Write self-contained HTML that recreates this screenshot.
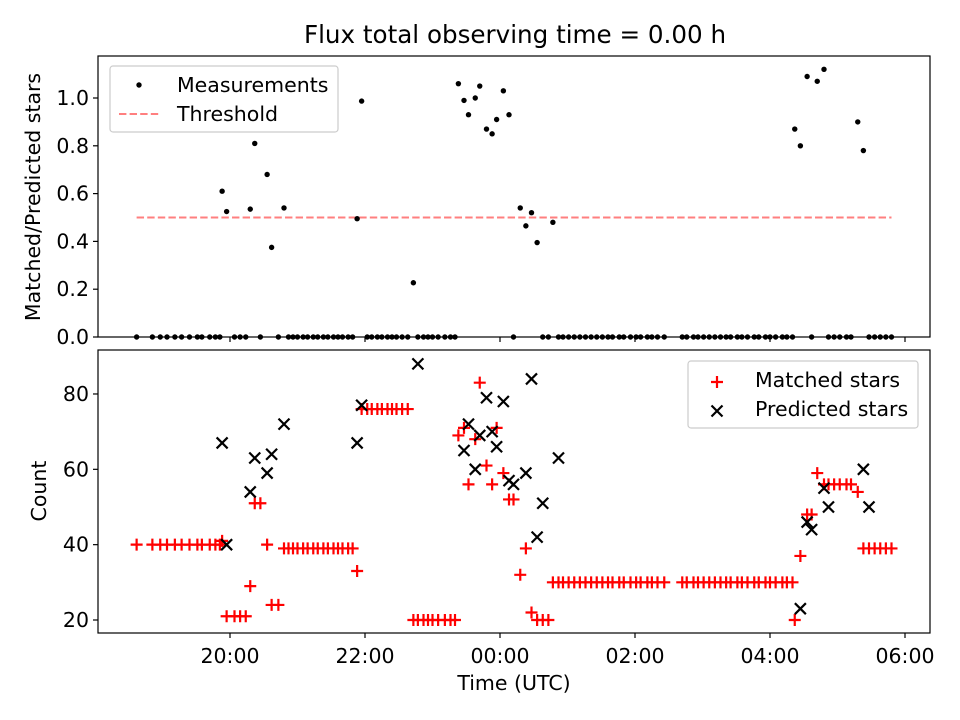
<!DOCTYPE html>
<html><head><meta charset="utf-8"><style>
html,body{margin:0;padding:0;background:#fff;}
svg{display:block;font-family:"DejaVu Sans","Liberation Sans",sans-serif;}
</style></head><body>
<svg id="fig" width="960" height="720" xmlns="http://www.w3.org/2000/svg"></svg>
<script>
// minutes since 18:00 UTC
const minutesSince1800 = [37,51,58,64,71,77,84,91,95,102,107,111,113,117,124,129,134,138,142,147,153,157,163,168,
172,176,180,185,189,194,198,203,207,212,216,220,225,229,233,237,242,246,251,255,260,264,268,273,278,283,
287,292,296,300,305,311,316,320,323,328,332,338,342,348,353,357,363,368,372,378,383,388,393,398,403,407,
412,416,421,426,431,436,441,446,451,456,460,466,470,476,481,485,491,495,500,506,
522,526,532,536,541,546,551,556,561,565,571,575,580,586,590,596,600,605,611,615,620,
622,627,633,637,642,648,652,657,662,668,672,678,683,688,693,698,703,708];
const matchedStars = [40,40,40,40,40,40,40,40,40,40,40,40,41,21,21,21,21,29,51,51,40,24,24,39,
39,39,39,39,39,39,39,39,39,39,39,39,39,39,33,76,76,76,76,76,76,76,76,76,76,20,
20,20,20,20,20,20,20,20,69,71,56,68,83,61,56,71,59,52,52,32,39,22,20,20,20,30,
30,30,30,30,30,30,30,30,30,30,30,30,30,30,30,30,30,30,30,30,
30,30,30,30,30,30,30,30,30,30,30,30,30,30,30,30,30,30,30,30,30,
20,37,48,48,59,56,56,56,56,56,56,54,39,39,39,39,39,39];
const predictedStars = [null,null,null,null,null,null,null,null,null,null,null,null,67,40,null,null,null,54,63,null,59,64,null,72,
null,null,null,null,null,null,null,null,null,null,null,null,null,null,67,77,null,null,null,null,null,null,null,null,null,null,88,
null,null,null,null,null,null,null,null,65,72,60,69,79,70,66,78,57,56,null,59,84,42,51,null,null,63,
null,null,null,null,null,null,null,null,null,null,null,null,null,null,null,null,null,null,null,null,
null,null,null,null,null,null,null,null,null,null,null,null,null,null,null,null,null,null,null,null,null,
23,46,44,null,55,50,null,null,null,null,null,60,50,null,null,null,null,null];
const ratioMeasured = [0,0,0,0,0,0,0,0,0,0,0,0,0.61,0.525,0,0,0,0.535,0.81,0,0.68,0.375,0,0.54,
0,0,0,0,0,0,0,0,0,0,0,0,0,0,0.495,0.987,0,0,0,0,0,0,0,0,0,0.227,
0,0,0,0,0,0,0,0,1.06,0.99,0.93,1.0,1.05,0.87,0.85,0.91,1.03,0.93,0,0.54,0.465,0.52,0.395,0,0,0.48,
0,0,0,0,0,0,0,0,0,0,0,0,0,0,0,0,0,0,0,0,
0,0,0,0,0,0,0,0,0,0,0,0,0,0,0,0,0,0,0,0,0,
0.87,0.80,1.09,0,1.07,1.12,0,0,0,0,0,0.90,0.78,0,0,0,0,0];
const threshold = 0.5;
const xTickMinutes = [120,240,360,480,600,720];
const xTickLabels = ["20:00","22:00","00:00","02:00","04:00","06:00"];
const topYTicks = [0,0.2,0.4,0.6,0.8,1.0];
const topYLabels = ["0.0","0.2","0.4","0.6","0.8","1.0"];
const botYTicks = [20,40,60,80];

const NS="http://www.w3.org/2000/svg";
const svg=document.getElementById('fig');
function mk(tag,attrs,parent){const e=document.createElementNS(NS,tag);for(const k in attrs)e.setAttribute(k,attrs[k]);(parent||svg).appendChild(e);return e;}
const L=98,R=930;
const FS=20.5;
function X(m){return 95+m/60*67.5;}
const T0=337,T1=56;
function YT(v){return 337-v*239;}
const B0=633,B1=350;
function YB(v){return 620-(v-20)*3.767;}

// title
let t=mk('text',{x:515,y:43,'text-anchor':'middle','font-size':24.6,fill:'#000'});
t.textContent='Flux total observing time = 0.00 h';



function axesFrame(top,bottom,name){
  const r=mk('rect',{x:L,y:top,width:R-L,height:bottom-top,fill:'none',stroke:'#000','stroke-width':1.2});
  
  
}

// ---- top panel
const gTop=mk('g',{});


const thr=mk('line',{x1:X(minutesSince1800[0]),x2:X(minutesSince1800[minutesSince1800.length-1]),y1:YT(threshold),y2:YT(threshold),stroke:'#ff7f7f','stroke-width':2,'stroke-dasharray':'7.4,3.2'},gTop);


for(let i=0;i<minutesSince1800.length;i++){
  const c=mk('circle',{cx:X(minutesSince1800[i]),cy:YT(ratioMeasured[i]),r:2.7,fill:'#000'},gTop);
  
  
}
axesFrame(T1,T0,'ratio-axes-frame');
topYTicks.forEach((v,i)=>{
  const y=YT(v);
  const tk=mk('line',{x1:L-5,x2:L,y1:y,y2:y,stroke:'#000','stroke-width':1.2});
  
  
  const tx=mk('text',{x:L-9,y:y+7,'text-anchor':'end','font-size':FS});
  tx.textContent=topYLabels[i];
  
  
});
xTickMinutes.forEach(m=>{
  const tk=mk('line',{x1:X(m),x2:X(m),y1:T0,y2:T0+5,stroke:'#000','stroke-width':1.2});
  
  
});
let yl=mk('text',{x:0,y:0,'text-anchor':'middle','font-size':FS,transform:'translate(40,197) rotate(-90)'});
yl.textContent='Matched/Predicted stars';



// top legend
const lg1=mk('g',{});


mk('rect',{x:110,y:66,width:228,height:66,rx:3,fill:'#fff','fill-opacity':0.8,stroke:'#ccc','stroke-width':1.2},lg1);
mk('circle',{cx:139,cy:85,r:2.7,fill:'#000'},lg1);
let lt=mk('text',{x:177,y:92,'font-size':FS},lg1);lt.textContent='Measurements';


mk('line',{x1:119,x2:161,y1:114,y2:114,stroke:'#ff7f7f','stroke-width':2,'stroke-dasharray':'7.4,3.2'},lg1);
lt=mk('text',{x:177,y:121,'font-size':FS},lg1);lt.textContent='Threshold';



// ---- bottom panel
const gB=mk('g',{});


function plus(x,y,g){return mk('path',{d:`M${x-6},${y}H${x+6}M${x},${y-6}V${y+6}`,stroke:'#ff0000','stroke-width':2.2,fill:'none'},g);}
function cross(x,y,g){return mk('path',{d:`M${x-5.5},${y-5.5}L${x+5.5},${y+5.5}M${x-5.5},${y+5.5}L${x+5.5},${y-5.5}`,stroke:'#000','stroke-width':2.2,fill:'none'},g);}
for(let i=0;i<minutesSince1800.length;i++){
  const p=plus(X(minutesSince1800[i]),YB(matchedStars[i]),gB);
  
  
}
for(let i=0;i<minutesSince1800.length;i++){
  if(predictedStars[i]===null)continue;
  const p=cross(X(minutesSince1800[i]),YB(predictedStars[i]),gB);
  
  
}
axesFrame(B1,B0,'count-axes-frame');
botYTicks.forEach(v=>{
  const y=YB(v);
  const tk=mk('line',{x1:L-5,x2:L,y1:y,y2:y,stroke:'#000','stroke-width':1.2});
  
  
  const tx=mk('text',{x:L-9,y:y+7,'text-anchor':'end','font-size':FS});
  tx.textContent=String(v);
  
  
});
xTickMinutes.forEach((m,i)=>{
  const tk=mk('line',{x1:X(m),x2:X(m),y1:B0,y2:B0+5,stroke:'#000','stroke-width':1.2});
  
  
  const tx=mk('text',{x:X(m),y:B0+30,'text-anchor':'middle','font-size':FS});
  tx.textContent=xTickLabels[i];
  
  
});
yl=mk('text',{x:0,y:0,'text-anchor':'middle','font-size':FS,transform:'translate(46,491) rotate(-90)'});
yl.textContent='Count';


let xl=mk('text',{x:514,y:690,'text-anchor':'middle','font-size':FS});
xl.textContent='Time (UTC)';



// bottom legend
const lg2=mk('g',{});


mk('rect',{x:688,y:361,width:230,height:67,rx:3,fill:'#fff','fill-opacity':0.8,stroke:'#ccc','stroke-width':1.2},lg2);
plus(717,382,lg2);
lt=mk('text',{x:755,y:387,'font-size':FS},lg2);lt.textContent='Matched stars';


cross(717,411,lg2);
lt=mk('text',{x:755,y:416,'font-size':FS},lg2);lt.textContent='Predicted stars';


</script>
</body></html>
